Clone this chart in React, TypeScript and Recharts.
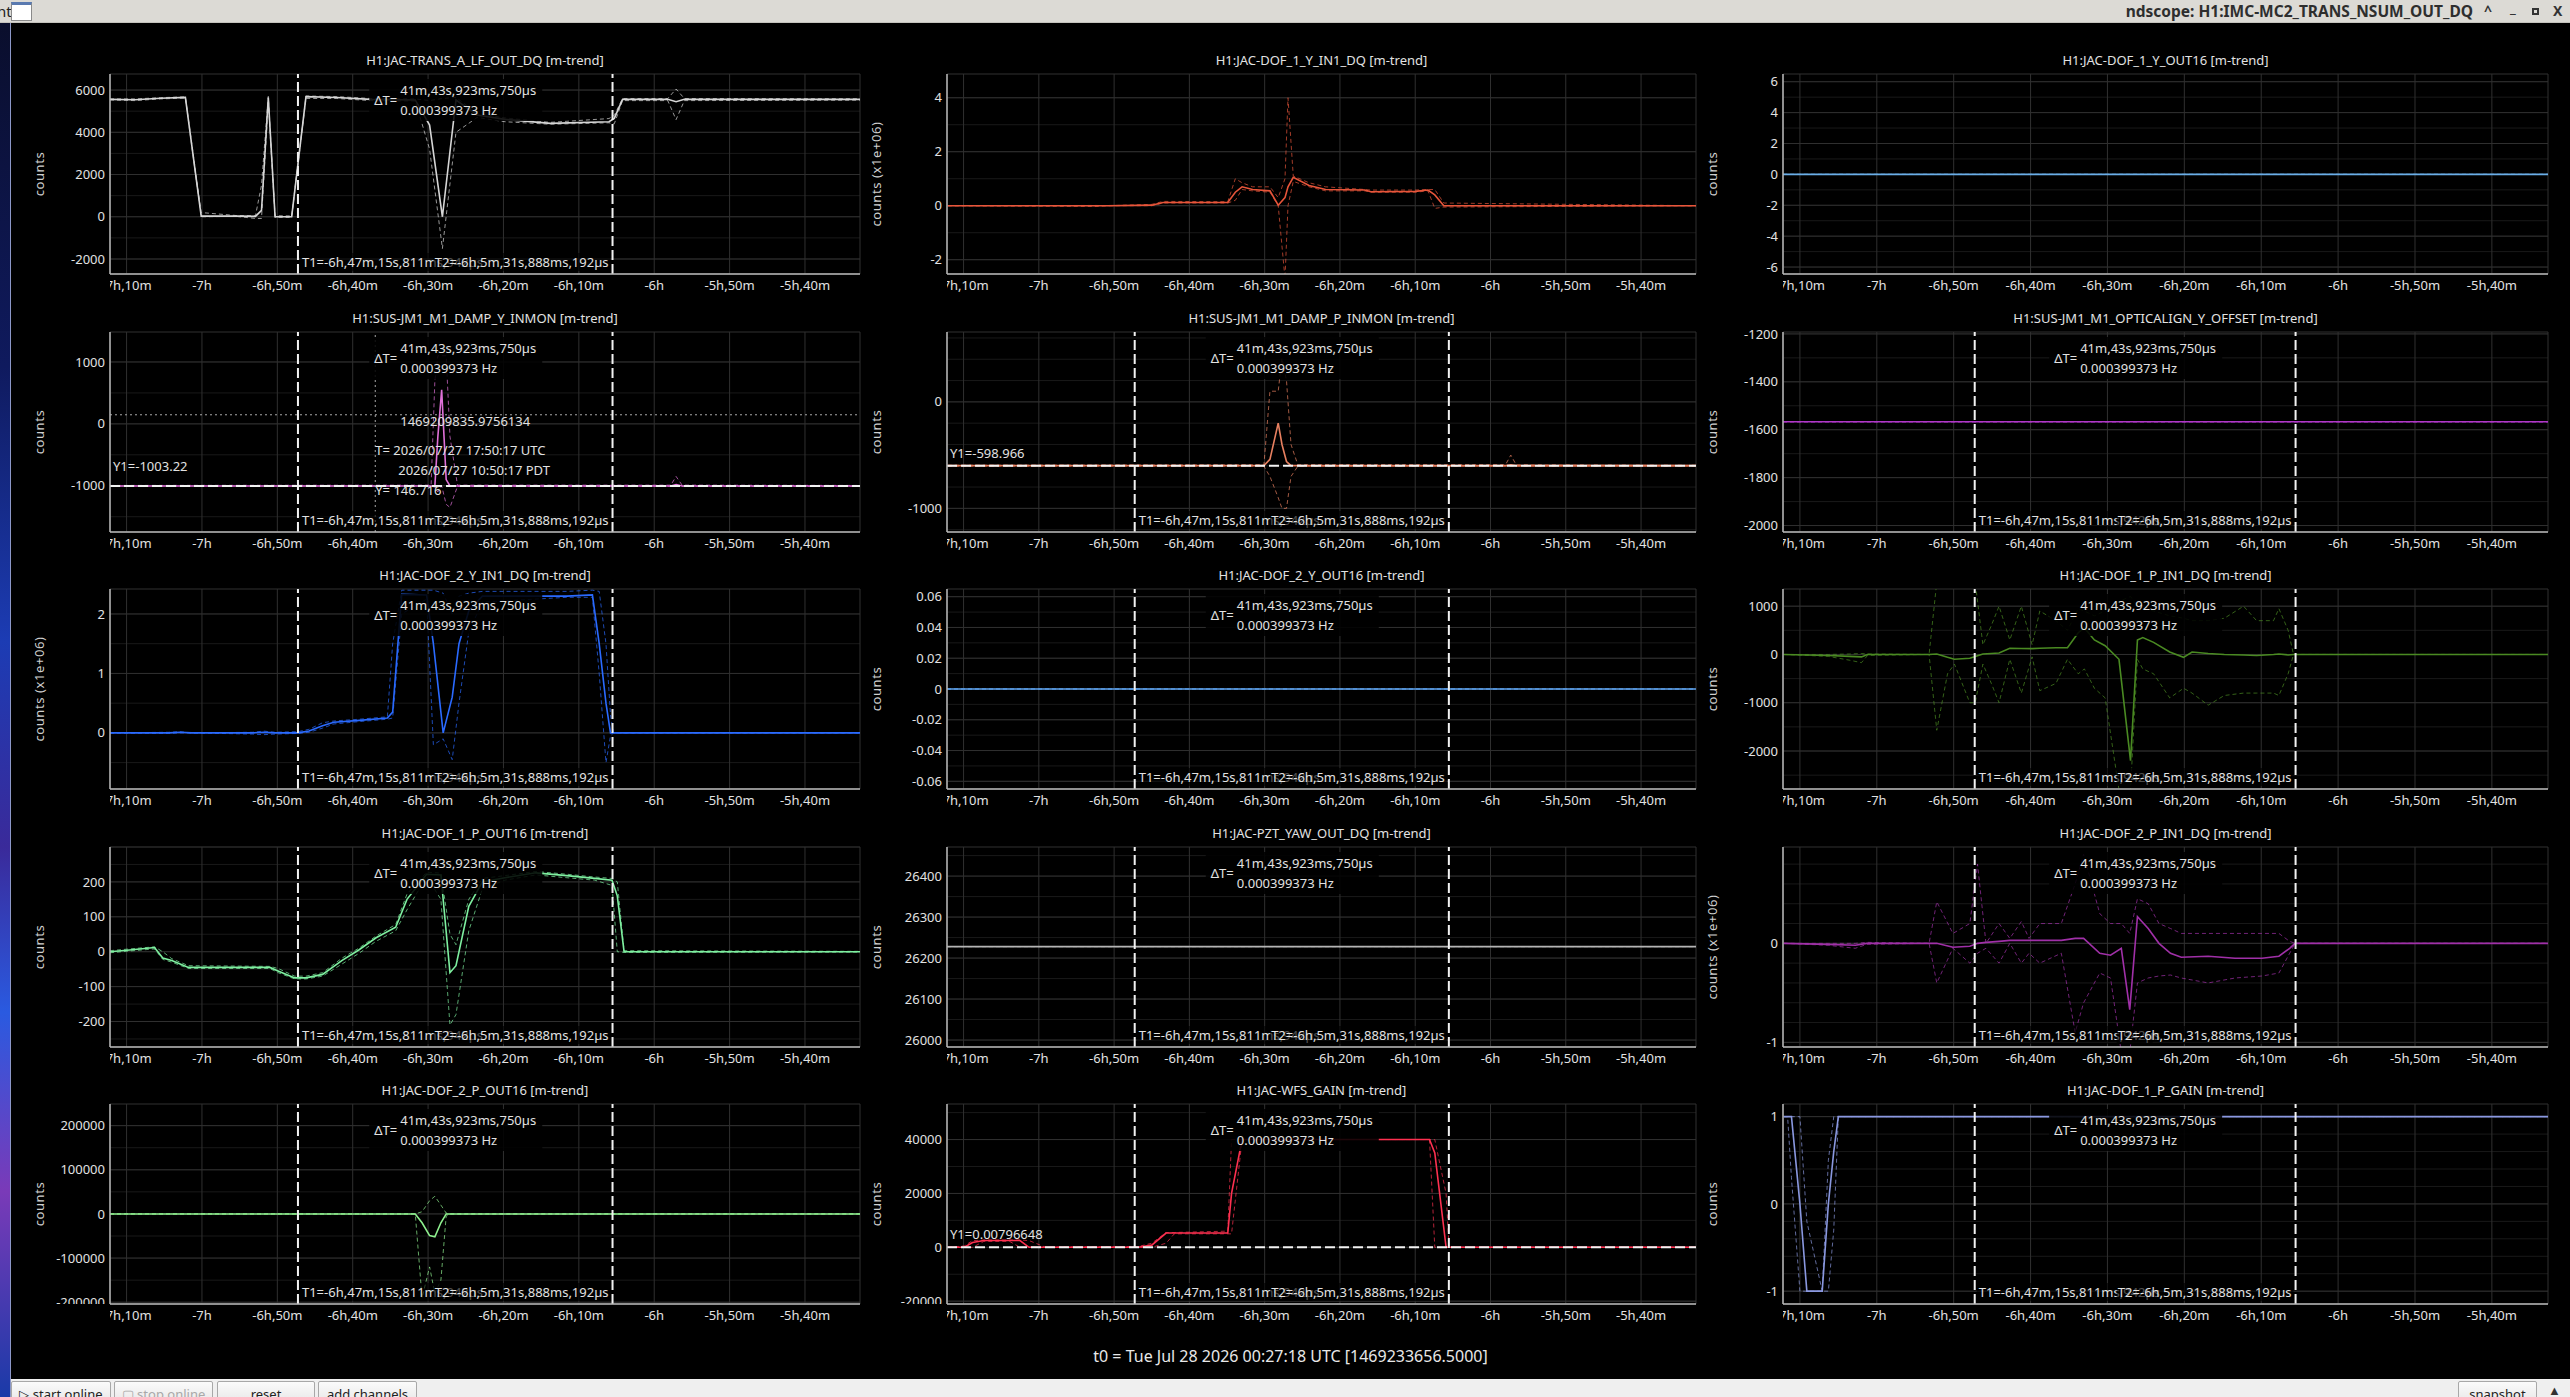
import React from "react";
import {
  LineChart,
  Line,
  XAxis,
  YAxis,
  CartesianGrid,
  ReferenceLine,
  ReferenceDot,
} from "recharts";

// ---------- shared time axis (minutes relative to t0) ----------
const X_DOMAIN = [-432.2, -332.7];
const X_TICKS = [-430, -420, -410, -400, -390, -380, -370, -360, -350, -340];
const X_TICK_LABELS = ["-7h,10m", "-7h", "-6h,50m", "-6h,40m", "-6h,30m", "-6h,20m", "-6h,10m", "-6h", "-5h,50m", "-5h,40m"];

// cursors
const T1 = -407.264;
const T2 = -365.531;
const T1_LABEL = "T1=-6h,47m,15s,811ms,942µs";
const T2_LABEL = "T2=-6h,5m,31s,888ms,192µs";
const DT_LABEL = "41m,43s,923ms,750µs";
const DT_FREQ = "0.000399373 Hz";
const CROSS_T = -397.009;
const CROSS_Y = 146.716;
const CROSS_LINES = ["1469209835.9756134", "T= 2026/07/27 17:50:17 UTC", "2026/07/27 10:50:17 PDT", "Y= 146.716"];

// ---------- data ----------
const flat_t = [-432.2, -332.7];

const transA_t = [-432.2, -428.9, -425.5, -422.2, -420.1, -415.5, -412.9, -412.1, -411.2, -410.3, -408.1, -406.2, -402.1, -397.6, -391.7, -389.8, -388.1, -386.3, -383.5, -379.8, -373.8, -366.0, -365.3, -364.2, -358.2, -357.1, -356.0, -332.7];
const transA_mean = [5560, 5540, 5610, 5655, 30, 30, 20, 300, 5650, 0, 0, 5690, 5650, 5560, 5530, 4340, 0, 5530, 4820, 4610, 4420, 4500, 4660, 5560, 5560, 5450, 5560, 5560];
const transA_min = [5530, 5500, 5580, 5620, 0, 20, -80, -80, 5400, -30, -30, 5600, 5600, 5500, 5480, 3200, -1500, 4000, 4700, 4500, 4380, 4450, 4400, 5500, 5500, 4600, 5500, 5520];
const transA_max = [5580, 5580, 5640, 5680, 200, 60, 50, 1500, 5700, 50, 40, 5720, 5690, 5600, 5580, 5500, 5600, 5650, 4900, 4680, 4470, 4650, 4800, 5600, 5600, 6050, 5600, 5590];
const transA_ticks = [-2000, 0, 2000, 4000, 6000];

const dof1yIn1_t = [-432.1, -412.4, -410.9, -405.0, -403.5, -394.9, -393.9, -393.0, -391.6, -389.3, -388.2, -387.3, -386.9, -386.2, -384.1, -381.9, -376.7, -375.9, -370.0, -368.3, -367.4, -366.2, -332.7];
const dof1yIn1_mean = [0, 0, 0, 0.02, 0.12, 0.12, 0.5, 0.7, 0.6, 0.55, 0.02, 0.3, 0.7, 1.05, 0.75, 0.6, 0.58, 0.52, 0.53, 0.58, 0.4, 0, 0];
const dof1yIn1_min = [0, -0.03, 0, 0, 0.1, 0.1, 0.2, 0.6, 0.55, 0.5, 0, -2.7, 0, 0.9, 0.7, 0.55, 0.55, 0.5, 0.5, 0.55, -0.1, -0.05, 0];
const dof1yIn1_max = [0, 0.01, 0, 0.05, 0.16, 0.15, 1.0, 0.85, 0.7, 0.7, 0.3, 1.0, 4.0, 1.1, 0.85, 0.7, 0.6, 0.58, 0.58, 0.6, 0.6, 0.1, 0];
const dof1yIn1_ticks = [-2, 0, 2, 4];

const dof1yOut16_vals = [0, 0];
const dof1yOut16_ticks = [-6, -4, -2, 0, 2, 4, 6];

const dampY_t = [-432.2, -389.6, -389.1, -388.7, -388.2, -387.6, -387.1, -386.1, -357.8, -357.1, -356.3, -332.7];
const dampY_mean = [-1003, -1003, -1000, -200, 550, -900, -1003, -1003, -1003, -980, -1003, -1003];
const dampY_min = [-1010, -1010, -1020, -1100, -1000, -1300, -1350, -1010, -1010, -1010, -1010, -1010];
const dampY_max = [-995, -990, 700, 1100, 1100, 1100, -200, -990, -990, -850, -990, -995];
const dampY_ticks = [-1000, 0, 1000];
const dampY_y1 = -1003.22;

const dampP_t = [-432.1, -390.1, -389.3, -388.2, -387.7, -387.1, -386.5, -385.6, -358.0, -357.3, -356.6, -332.7];
const dampP_mean = [-599, -599, -540, -200, -400, -560, -599, -599, -599, -590, -599, -599];
const dampP_min = [-605, -605, -700, -900, -1000, -1000, -700, -605, -605, -605, -605, -605];
const dampP_max = [-595, -590, 100, 100, 410, 200, -400, -590, -590, -500, -590, -595];
const dampP_ticks = [-1000, 0];
const dampP_y1 = -598.966;

const opticalign_vals = [-1567, -1567];
const opticalign_ticks = [-2000, -1800, -1600, -1400, -1200];

const dof2yIn1_t = [-432.2, -424.4, -422.9, -421.4, -413.3, -411.8, -410.3, -407.3, -405.8, -404.0, -402.5, -399.1, -395.4, -394.7, -393.5, -390.2, -389.3, -388.0, -386.8, -385.9, -384.6, -382.8, -371.6, -368.2, -367.3, -366.4, -365.8, -365.4, -332.7];
const dof2yIn1_mean = [0, 0, 0.01, 0, 0, 0.01, 0, 0, 0.03, 0.12, 0.18, 0.21, 0.25, 0.35, 2.33, 2.32, 1.5, 0, 0.6, 1.5, 2.05, 2.3, 2.3, 2.32, 1.5, 0.5, 0, 0, 0];
const dof2yIn1_min = [0, -0.01, 0, 0, -0.02, -0.03, -0.02, -0.01, 0.01, 0.08, 0.15, 0.19, 0.23, 0.25, 2.0, 2.25, -0.2, -0.1, -0.45, 0.5, 1.7, 2.2, 2.28, 2.28, 1.0, -0.5, -0.05, 0, 0];
const dof2yIn1_max = [0, 0.01, 0.02, 0, 0.01, 0.03, 0.01, 0.02, 0.06, 0.17, 0.2, 0.23, 0.27, 1.5, 2.4, 2.4, 2.4, 2.35, 2.0, 2.3, 2.35, 2.38, 2.38, 2.4, 2.38, 1.5, 0.3, 0, 0];
const dof2yIn1_ticks = [0, 1, 2];

const dof2yOut16_vals = [0, 0];
const dof2yOut16_ticks = [-0.06, -0.04, -0.02, 0, 0.02, 0.04, 0.06];

const dof1pIn1_t = [-432.1, -426.3, -423.5, -422.0, -421.2, -413.2, -412.2, -410.8, -409.9, -407.9, -407.2, -406.2, -405.1, -404.1, -402.7, -401.2, -399.8, -398.8, -396.7, -395.2, -393.8, -393.0, -391.7, -390.3, -388.5, -387.0, -386.1, -385.4, -384.0, -381.9, -380.1, -379.0, -376.9, -374.8, -372.3, -370.6, -368.4, -367.7, -366.5, -365.8, -332.6];
const dof1pIn1_mean = [0, -20, -40, -50, 0, 0, 10, -60, -100, -80, -40, 10, 20, 30, 130, 125, 120, 130, 140, 140, 450, 550, 300, 180, -100, -2200, 300, 350, 250, 50, -60, 50, 20, 0, -10, -20, 0, 10, -10, 0, 0];
const dof1pIn1_min = [0, -40, -120, -170, -20, 0, -1570, -400, -200, -1000, -1000, -200, -600, -1000, -100, -800, -50, -750, -600, -100, -400, -300, -700, -900, -2800, -2800, -100, -300, -400, -900, -700, -800, -1050, -850, -800, -800, -800, -850, -400, 0, 0];
const dof1pIn1_max = [0, 0, 10, 20, 10, 0, 1500, 1500, 1500, 1500, 1500, 200, 600, 1000, 300, 1000, 200, 900, 700, 500, 950, 900, 800, 900, 1100, 1200, 1000, 950, 900, 800, 750, 700, 700, 750, 1000, 700, 700, 950, 500, 0, 0];
const dof1pIn1_ticks = [-2000, -1000, 0, 1000];

const dof1pOut16_t = [-432.2, -429.6, -426.3, -425.2, -424.0, -421.8, -411.0, -409.9, -407.7, -406.2, -404.0, -401.4, -399.2, -396.9, -394.3, -392.8, -390.2, -388.3, -387.1, -386.3, -384.6, -382.8, -379.8, -375.7, -371.6, -367.9, -365.6, -364.9, -364.0, -332.7];
const dof1pOut16_mean = [0, 5, 12, -18, -25, -45, -45, -55, -75, -75, -65, -25, 5, 40, 70, 150, 222, 220, -60, -40, 130, 200, 212, 226, 218, 210, 205, 160, 0, 0];
const dof1pOut16_min = [-3, 2, 8, -22, -30, -48, -48, -60, -78, -78, -70, -35, -5, 30, 60, 120, 215, 150, -210, -180, 60, 180, 205, 220, 212, 205, 190, 0, -2, -1];
const dof1pOut16_max = [3, 8, 14, 0, -20, -40, -42, -48, -70, -70, -60, -18, 10, 45, 78, 165, 228, 225, 50, 20, 150, 210, 218, 230, 222, 214, 210, 200, 3, 1];
const dof1pOut16_ticks = [-200, -100, 0, 100, 200];

const pztYaw_vals = [26228, 26228];
const pztYaw_ticks = [26000, 26100, 26200, 26300, 26400];

const dof2pIn1_t = [-432.1, -426.3, -422.8, -421.3, -413.2, -412.2, -410.1, -407.9, -406.9, -405.8, -404.1, -402.7, -401.2, -400.2, -398.8, -396.0, -394.2, -393.1, -391.0, -389.6, -388.2, -387.1, -386.1, -384.7, -383.3, -381.8, -380.4, -376.9, -373.4, -369.9, -367.7, -366.3, -365.6, -332.6];
const dof2pIn1_mean = [0, -0.01, -0.02, 0, 0, 0, -0.04, -0.03, 0, 0.01, 0.02, 0.03, 0.03, 0.03, 0.03, 0.03, 0.05, 0.05, -0.1, -0.12, -0.05, -0.67, 0.27, 0.15, 0, -0.1, -0.14, -0.13, -0.15, -0.15, -0.13, -0.05, 0, 0];
const dof2pIn1_min = [0, -0.02, -0.05, -0.01, 0, -0.4, -0.05, -0.2, -0.1, -0.05, -0.2, 0, -0.2, -0.1, -0.2, -0.1, -0.9, -0.6, -0.3, -0.35, -1.1, -1.1, -0.4, -0.35, -0.33, -0.32, -0.35, -0.4, -0.35, -0.33, -0.3, -0.1, 0, 0];
const dof2pIn1_max = [0, 0, 0, 0.01, 0, 0.42, 0.1, 0.2, 0.8, 0, 0.2, 0.05, 0.22, 0.05, 0.2, 0.2, 0.6, 0.9, 0.3, 0.2, 0.2, 0.1, 0.45, 0.4, 0.2, 0.15, 0.1, 0.1, 0.1, 0.1, 0.1, 0.02, 0, 0];
const dof2pIn1_ticks = [-1, 0];

const dof2pOut16_t = [-432.2, -391.7, -390.8, -389.8, -389.1, -388.3, -387.6, -387.2, -332.7];
const dof2pOut16_mean = [0, 0, -20000, -49000, -52000, -20000, 0, 0, 0];
const dof2pOut16_min = [0, 0, -190000, -120000, -180000, -150000, -5000, 0, 0];
const dof2pOut16_max = [0, 0, 5000, 30000, 40000, 20000, 2000, 0, 0];
const dof2pOut16_ticks = [-200000, -100000, 0, 100000, 200000];

const wfsGain_t = [-432.1, -429.9, -428.8, -427.3, -423.9, -422.5, -421.3, -419.1, -406.8, -405.0, -403.1, -402.0, -394.9, -394.4, -393.0, -368.1, -367.4, -365.9, -365.5, -332.7];
const wfsGain_mean = [0, 0, 1800, 2500, 2500, 2500, 0, 0, 0, 800, 5300, 5300, 5300, 20000, 40000, 40000, 35000, 0, 0, 0];
const wfsGain_min = [0, 0, 0, 2200, 2200, 0, 0, 0, 0, 0, 1500, 5000, 5000, 5000, 40000, 40000, 0, 0, 0, 0];
const wfsGain_max = [0, 500, 2500, 2700, 2700, 2700, 2500, 0, 300, 1500, 5500, 5500, 6000, 40000, 40000, 40000, 40000, 20000, 0, 0];
const wfsGain_ticks = [-20000, 0, 20000, 40000];
const wfsGain_y1 = 0.00796648;

const dof1pGain_t = [-432.1, -431.6, -431.1, -430.0, -429.1, -427.1, -426.3, -425.6, -425.0, -332.6];
const dof1pGain_mean = [1, 1, 1, 0, -1, -1, 0, 0.6, 1, 1];
const dof1pGain_min = [1, 1, 0.3, -1, -1, -1, -1, -0.3, 1, 1];
const dof1pGain_max = [1, 1, 1, 1, -0.2, -1, 0.5, 1, 1, 1];
const dof1pGain_ticks = [-1, 0, 1];

// ---------- layout ----------
const FONT = '"Noto Sans", "Open Sans", sans-serif';
const TEXT = "#e2e2e2";
const CURSOR = "#f2f2f2";
const COL_LEFT = [110, 947, 1783];
const COL_WIDTH = [750, 749, 765];
const ROW_TOP = [74, 331.5, 589, 846.5, 1104];
const PLOT_H = 200;
const AXIS_W = 90;
const TOP_PAD = 40;
const X_AXIS_H = 30;
const RIGHT_PAD = 6;

const PANELS: any[] = [
  { key: "transA", row: 0, col: 0, title: "H1:JAC-TRANS_A_LF_OUT_DQ [m-trend]", ylabel: "counts", color: "#d6d6d6", t: transA_t, mean: transA_mean, min: transA_min, max: transA_max, domain: [-2710, 6760], ticks: transA_ticks, minor: 1000, cursors: true },
  { key: "dof1yIn1", row: 0, col: 1, title: "H1:JAC-DOF_1_Y_IN1_DQ [m-trend]", ylabel: "counts (x1e+06)", color: "#e8553a", t: dof1yIn1_t, mean: dof1yIn1_mean, min: dof1yIn1_min, max: dof1yIn1_max, domain: [-2.53, 4.88], ticks: dof1yIn1_ticks, minor: 1, cursors: false },
  { key: "dof1yOut16", row: 0, col: 2, title: "H1:JAC-DOF_1_Y_OUT16 [m-trend]", ylabel: "counts", color: "#6aaee8", t: flat_t, mean: dof1yOut16_vals, min: dof1yOut16_vals, max: dof1yOut16_vals, domain: [-6.45, 6.5], ticks: dof1yOut16_ticks, minor: 1, cursors: false },
  { key: "dampY", row: 1, col: 0, title: "H1:SUS-JM1_M1_DAMP_Y_INMON [m-trend]", ylabel: "counts", color: "#e070d8", t: dampY_t, mean: dampY_mean, min: dampY_min, max: dampY_max, domain: [-1747, 1484], ticks: dampY_ticks, minor: 500, cursors: true, y1: dampY_y1, y1Label: "Y1=-1003.22", y1Dy: -20, cross: true },
  { key: "dampP", row: 1, col: 1, title: "H1:SUS-JM1_M1_DAMP_P_INMON [m-trend]", ylabel: "counts", color: "#e88060", t: dampP_t, mean: dampP_mean, min: dampP_min, max: dampP_max, domain: [-1222, 656], ticks: dampP_ticks, minor: 200, cursors: true, y1: dampP_y1, y1Label: "Y1=-598.966", y1Dy: -12 },
  { key: "opticalign", row: 1, col: 2, title: "H1:SUS-JM1_M1_OPTICALIGN_Y_OFFSET [m-trend]", ylabel: "counts", color: "#b038c8", t: flat_t, mean: opticalign_vals, min: opticalign_vals, max: opticalign_vals, domain: [-2027, -1192], ticks: opticalign_ticks, minor: 100, cursors: true },
  { key: "dof2yIn1", row: 2, col: 0, title: "H1:JAC-DOF_2_Y_IN1_DQ [m-trend]", ylabel: "counts (x1e+06)", color: "#2a6aff", t: dof2yIn1_t, mean: dof2yIn1_mean, min: dof2yIn1_min, max: dof2yIn1_max, domain: [-0.944, 2.42], ticks: dof2yIn1_ticks, minor: 0.5, cursors: true },
  { key: "dof2yOut16", row: 2, col: 1, title: "H1:JAC-DOF_2_Y_OUT16 [m-trend]", ylabel: "counts", color: "#5a9ee8", t: flat_t, mean: dof2yOut16_vals, min: dof2yOut16_vals, max: dof2yOut16_vals, domain: [-0.065, 0.065], ticks: dof2yOut16_ticks, minor: 0.01, cursors: true },
  { key: "dof1pIn1", row: 2, col: 2, title: "H1:JAC-DOF_1_P_IN1_DQ [m-trend]", ylabel: "counts", color: "#4a8a22", t: dof1pIn1_t, mean: dof1pIn1_mean, min: dof1pIn1_min, max: dof1pIn1_max, domain: [-2787, 1356], ticks: dof1pIn1_ticks, minor: 500, cursors: true },
  { key: "dof1pOut16", row: 3, col: 0, title: "H1:JAC-DOF_1_P_OUT16 [m-trend]", ylabel: "counts", color: "#7ef0a0", t: dof1pOut16_t, mean: dof1pOut16_mean, min: dof1pOut16_min, max: dof1pOut16_max, domain: [-273, 300], ticks: dof1pOut16_ticks, minor: 50, cursors: true },
  { key: "pztYaw", row: 3, col: 1, title: "H1:JAC-PZT_YAW_OUT_DQ [m-trend]", ylabel: "counts", color: "#b4b4b4", t: flat_t, mean: pztYaw_vals, min: pztYaw_vals, max: pztYaw_vals, domain: [25983, 26471], ticks: pztYaw_ticks, minor: 50, cursors: true },
  { key: "dof2pIn1", row: 3, col: 2, title: "H1:JAC-DOF_2_P_IN1_DQ [m-trend]", ylabel: "counts (x1e+06)", color: "#a030a8", t: dof2pIn1_t, mean: dof2pIn1_mean, min: dof2pIn1_min, max: dof2pIn1_max, domain: [-1.047, 0.973], ticks: dof2pIn1_ticks, minor: 0.2, cursors: true },
  { key: "dof2pOut16", row: 4, col: 0, title: "H1:JAC-DOF_2_P_OUT16 [m-trend]", ylabel: "counts", color: "#8ef08e", t: dof2pOut16_t, mean: dof2pOut16_mean, min: dof2pOut16_min, max: dof2pOut16_max, domain: [-204000, 249000], ticks: dof2pOut16_ticks, minor: 50000, cursors: true },
  { key: "wfsGain", row: 4, col: 1, title: "H1:JAC-WFS_GAIN [m-trend]", ylabel: "counts", color: "#ff3050", t: wfsGain_t, mean: wfsGain_mean, min: wfsGain_min, max: wfsGain_max, domain: [-21050, 53200], ticks: wfsGain_ticks, minor: 10000, cursors: true, y1: wfsGain_y1, y1Label: "Y1=0.00796648", y1Dy: -13 },
  { key: "dof1pGain", row: 4, col: 2, title: "H1:JAC-DOF_1_P_GAIN [m-trend]", ylabel: "counts", color: "#8a98e0", t: dof1pGain_t, mean: dof1pGain_mean, min: dof1pGain_min, max: dof1pGain_max, domain: [-1.147, 1.145], ticks: dof1pGain_ticks, minor: 0.2, cursors: true },
];

function minorValues(domain: number[], step: number) {
  const out: number[] = [];
  for (let v = Math.ceil(domain[0] / step) * step; v <= domain[1]; v += step) out.push(+v.toFixed(6));
  return out;
}

const txt = { fill: TEXT, fontSize: 13, fontFamily: FONT };

const makeXTick = (id: string) => (props: any) => {
  const { x, y, payload, index } = props;
  const label = X_TICK_LABELS[X_TICKS.indexOf(payload.value)] ?? "";
  const clip = `${id}-xc-${index}`;
  return (
    <g>
      <defs>
        <clipPath id={clip}>
          <rect x={AXIS_W} y={0} width={4000} height={4000} />
        </clipPath>
      </defs>
      <text x={x} y={y} dy="0.71em" textAnchor="middle" clipPath={`url(#${clip})`} {...txt}>
        {label}
      </text>
    </g>
  );
};

const makeYTick = (id: string) => (props: any) => {
  const { x, y, payload, index } = props;
  const clip = `${id}-yc-${index}`;
  return (
    <g>
      <defs>
        <clipPath id={clip}>
          <rect x={0} y={0} width={AXIS_W} height={TOP_PAD + PLOT_H} />
        </clipPath>
      </defs>
      <text x={x} y={y} dy="0.355em" textAnchor="end" clipPath={`url(#${clip})`} {...txt}>
        {String(payload.value)}
      </text>
    </g>
  );
};

const t1Label = (props: any) => {
  const { x, y, height } = props.viewBox;
  return (
    <g>
      <rect x={x + 2} y={y + height - 21} width={176} height={18} fill="#000" fillOpacity={0.6} />
      <text x={x + 4} y={y + height - 12} dy="0.35em" {...txt}>{T1_LABEL}</text>
    </g>
  );
};

const t2Label = (props: any) => {
  const { x, y, height } = props.viewBox;
  return (
    <g>
      <rect x={x - 179} y={y + height - 21} width={177} height={18} fill="#000" fillOpacity={0.65} />
      <text x={x - 4} y={y + height - 12} dy="0.35em" textAnchor="end" {...txt}>{T2_LABEL}</text>
    </g>
  );
};

const deltaLabel = (props: any) => {
  const { x, y } = props.viewBox;
  return (
    <g>
      <rect x={x - 86} y={y + 5} width={173} height={42} fill="#000" fillOpacity={0.88} />
      <text x={x - 58} y={y + 26} dy="0.35em" textAnchor="end" {...txt}>ΔT=</text>
      <text x={x - 55} y={y + 16} dy="0.35em" {...txt}>{DT_LABEL}</text>
      <text x={x - 55} y={y + 36} dy="0.35em" {...txt}>{DT_FREQ}</text>
    </g>
  );
};

const makeY1Label = (text: string, dy: number) => (props: any) => {
  const { x, y } = props.viewBox;
  return (
    <text x={x + 3} y={y + dy} dy="0.35em" {...txt}>{text}</text>
  );
};

const crossLabel = (props: any) => {
  const { x, y } = props.viewBox;
  return (
    <g>
      <text x={x + 25} y={y + 7} dy="0.35em" {...txt}>{CROSS_LINES[0]}</text>
      <text x={x} y={y + 36} dy="0.35em" {...txt}>{CROSS_LINES[1]}</text>
      <text x={x + 23} y={y + 56} dy="0.35em" {...txt}>{CROSS_LINES[2]}</text>
      <text x={x} y={y + 76} dy="0.35em" {...txt}>{CROSS_LINES[3]}</text>
    </g>
  );
};

function Panel({ p }: { p: any }) {
  const plotW = COL_WIDTH[p.col];
  const width = AXIS_W + plotW + RIGHT_PAD;
  const height = TOP_PAD + PLOT_H + X_AXIS_H;
  const rows = p.t.map((t: number, i: number) => ({ t, mean: p.mean[i], min: p.min[i], max: p.max[i] }));
  return (
    <div style={{ position: "absolute", left: COL_LEFT[p.col] - AXIS_W, top: ROW_TOP[p.row] - TOP_PAD, width, height }}>
      <div style={{ position: "absolute", left: AXIS_W, width: plotW, top: TOP_PAD - 23, lineHeight: "18px", textAlign: "center", color: TEXT, fontSize: 13, whiteSpace: "nowrap" }}>
        {p.title}
      </div>
      <div style={{ position: "absolute", left: AXIS_W - 71, top: TOP_PAD + PLOT_H / 2, transform: "translate(-50%, -50%) rotate(-90deg)", color: "#cfcfcf", fontSize: 13, letterSpacing: 0.6, whiteSpace: "nowrap" }}>
        {p.ylabel}
      </div>
      <LineChart width={width} height={height} data={rows} margin={{ top: TOP_PAD, right: RIGHT_PAD, bottom: 0, left: 0 }}>
        <CartesianGrid vertical={false} horizontalValues={minorValues(p.domain, p.minor)} stroke="#191919" />
        <CartesianGrid stroke="#303030" />
        <XAxis
          dataKey="t"
          type="number"
          domain={X_DOMAIN}
          ticks={X_TICKS}
          interval={0}
          allowDataOverflow
          height={X_AXIS_H}
          axisLine={{ stroke: "#b8b8b8", strokeWidth: 1.5 }}
          tickLine={false}
          tickSize={6}
          tickMargin={1}
          tick={makeXTick(p.key)}
        />
        <YAxis
          type="number"
          domain={p.domain}
          ticks={p.ticks}
          interval={0}
          allowDataOverflow
          width={AXIS_W}
          axisLine={{ stroke: "#b8b8b8", strokeWidth: 1.5 }}
          tickLine={false}
          tickSize={5}
          tickMargin={0}
          tick={makeYTick(p.key)}
        />
        <Line dataKey="min" type="linear" stroke={p.color} strokeWidth={1} strokeDasharray="4 3" strokeOpacity={0.7} dot={false} isAnimationActive={false} />
        <Line dataKey="max" type="linear" stroke={p.color} strokeWidth={1} strokeDasharray="4 3" strokeOpacity={0.7} dot={false} isAnimationActive={false} />
        <Line dataKey="mean" type="linear" stroke={p.color} strokeWidth={1.6} dot={false} isAnimationActive={false} />
        {p.cross && <ReferenceLine x={CROSS_T} stroke="#a8a8a8" strokeDasharray="2 3" />}
        {p.cross && <ReferenceLine y={CROSS_Y} stroke="#a8a8a8" strokeDasharray="2 3" />}
        {p.cross && <ReferenceDot x={CROSS_T} y={CROSS_Y} r={0} fill="none" stroke="none" label={crossLabel} />}
        {p.y1 !== undefined && (
          <ReferenceLine y={p.y1} stroke={CURSOR} strokeWidth={2} strokeDasharray="10 4" label={makeY1Label(p.y1Label, p.y1Dy)} />
        )}
        {p.cursors && <ReferenceLine x={T1} stroke={CURSOR} strokeWidth={2} strokeDasharray="10 4" label={t1Label} />}
        {p.cursors && <ReferenceLine x={T2} stroke={CURSOR} strokeWidth={2} strokeDasharray="10 4" label={t2Label} />}
        {p.cursors && <ReferenceLine x={(T1 + T2) / 2} stroke="none" label={deltaLabel} />}
      </LineChart>
    </div>
  );
}

const btn: React.CSSProperties = {
  position: "absolute",
  top: 2,
  height: 24,
  lineHeight: "24px",
  border: "1px solid #a8a8a8",
  borderRadius: 2,
  background: "linear-gradient(#fbfbfb, #e6e6e6)",
  fontSize: 13,
  color: "#222",
  textAlign: "center",
  boxSizing: "border-box",
};

export default function App() {
  return (
    <div style={{ position: "fixed", left: 0, top: 0, width: 2570, height: 1397, background: "#000", overflow: "hidden", fontFamily: FONT }}>
      {/* window title bar */}
      <div style={{ position: "absolute", left: 0, top: 0, width: 2570, height: 23, background: "#dcdad5", borderBottom: "1px solid #c4c2bc", boxSizing: "border-box" }}>
        <span style={{ position: "absolute", left: -3, top: 0, lineHeight: "23px", fontSize: 15, color: "#222" }}>nt</span>
        <div style={{ position: "absolute", left: 11, top: 2, width: 19, height: 15, background: "#fff", border: "1px solid #8a8a8a", borderTop: "3px solid #5a7ab0" }} />
        <span style={{ position: "absolute", right: 97, top: 0, lineHeight: "23px", fontSize: 15.5, fontWeight: 700, color: "#2e2e2e", whiteSpace: "nowrap" }}>
          ndscope: H1:IMC-MC2_TRANS_NSUM_OUT_DQ
        </span>
        <span style={{ position: "absolute", left: 2484, top: 1, fontSize: 14, fontWeight: 700, color: "#333" }}>^</span>
        <span style={{ position: "absolute", left: 2510, top: -2, fontSize: 14, fontWeight: 700, color: "#333" }}>_</span>
        <div style={{ position: "absolute", left: 2532, top: 8, width: 7, height: 7, border: "2px solid #333", boxSizing: "border-box" }} />
        <span style={{ position: "absolute", left: 2553, top: 1, fontSize: 14, fontWeight: 700, color: "#333" }}>X</span>
      </div>

      {/* desktop strip on the left */}
      <div style={{ position: "absolute", left: 0, top: 23, width: 10, height: 1374, background: "linear-gradient(180deg, #0a0e2c 0%, #0f1a5e 25%, #1c3cb4 45%, #3a2a9a 60%, #2a5ae0 72%, #7a3ab8 85%, #1a3aa8 100%)" }} />
      <div style={{ position: "absolute", left: 10, top: 23, width: 1, height: 1374, background: "#8c98c8" }} />

      {PANELS.map((p) => (
        <Panel key={p.key} p={p} />
      ))}

      <div style={{ position: "absolute", left: 11, width: 2559, top: 1346, lineHeight: "20px", textAlign: "center", color: "#e8e8e8", fontSize: 16 }}>
        t0 = Tue Jul 28 2026 00:27:18 UTC [1469233656.5000]
      </div>

      {/* bottom button bar */}
      <div style={{ position: "absolute", left: 11, top: 1379, width: 2559, height: 18, background: "#efefef" }}>
        <div style={{ ...btn, left: 0, width: 100 }}>▷ start online</div>
        <div style={{ ...btn, left: 103, width: 99, color: "#a8a8a8" }}>▢ stop online</div>
        <div style={{ ...btn, left: 206, width: 98 }}>reset</div>
        <div style={{ ...btn, left: 307, width: 99 }}>add channels</div>
        <div style={{ ...btn, left: 2447, width: 79 }}>snapshot</div>
        <span style={{ position: "absolute", left: 2537, top: 2, fontSize: 13, color: "#333" }}>▲</span>
      </div>
    </div>
  );
}
